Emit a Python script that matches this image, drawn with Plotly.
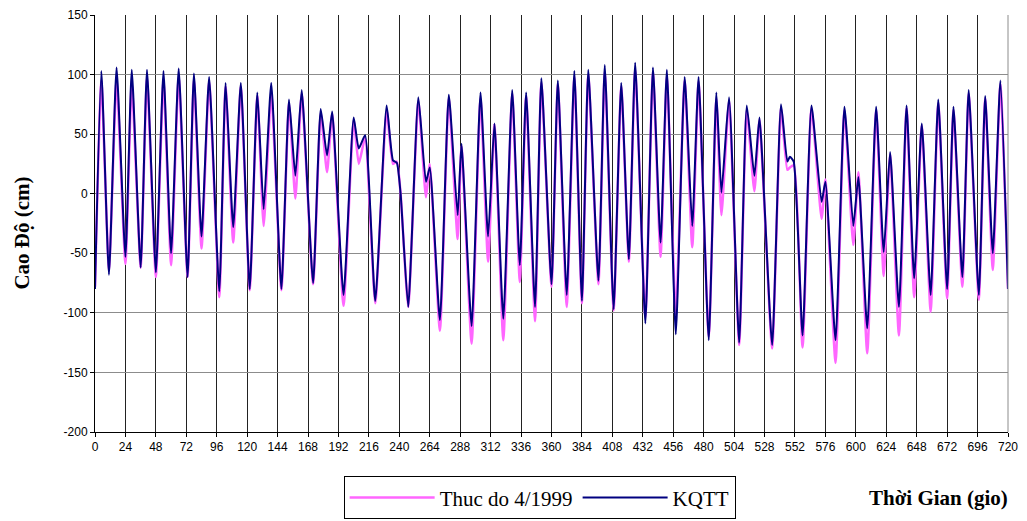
import plotly.graph_objects as go

# Hours of the successive highs / lows
hours = [0, 5, 11, 17, 24, 29, 36, 41, 48, 54, 60, 66, 73, 78, 84, 90, 98, 103, 109, 115,
         122, 128, 133, 139, 147, 153, 158, 163, 172, 178, 183, 187, 196, 204, 208, 213,
         221, 230, 235, 238, 241, 247, 255, 261, 264, 272, 279, 286, 289, 297, 304, 310,
         315, 322, 329, 335, 340, 347, 352, 360, 365, 372, 378, 384, 389, 397, 402, 409,
         415, 421, 426, 434, 440, 446, 451, 458, 465, 471, 476, 484, 490, 494, 500, 508,
         514, 520, 524, 534, 541, 546, 548, 551, 558, 565, 573, 576, 584, 591, 598, 602,
         609, 616, 622, 627, 634, 640, 646, 652, 659, 665, 672, 677, 684, 689, 697, 702,
         708, 714, 720]

# KQTT (computed), cm
kqtt = [-80, 103, -68, 106, -53, 104, -62, 104, -66, 103, -50, 105, -70, 101, -36, 98, -82, 93, -28, 93,
        -80, 85, -13, 93, -80, 79, 15, 87, -75, 71, 32, 69, -85, 64, 38, 49,
        -90, 74, 28, 26, 0, -95, 81, 10, 22, -106, 83, -18, 42, -111, 85, -36,
        59, -105, 87, -60, 85, -95, 97, -76, 95, -85, 103, -90, 104, -73, 108, -97,
        93, -55, 110, -109, 106, -41, 104, -118, 98, -27, 98, -123, 85, 1, 81, -125,
        74, 15, 64, -127, 75, 27, 31, 27, -119, 74, -7, 10, -123, 73, -27, 14,
        -113, 73, -49, 35, -95, 74, -71, 59, -85, 79, -80, 73, -70, 87, -85, 82,
        -50, 95, -80]

# Thuc do 4/1999 (observed), cm
thucdo = [-78, 95, -64, 95, -59, 92, -62, 97, -70, 95, -60, 98, -70, 95, -46, 94, -87, 90, -41, 90,
          -81, 82, -27, 84, -81, 76, -4, 84, -76, 68, 18, 67, -94, 62, 25, 47,
          -92, 70, 25, 27, 0, -95, 78, -3, 25, -115, 80, -38, 40, -126, 80, -57,
          58, -123, 84, -74, 82, -107, 93, -78, 92, -95, 98, -92, 100, -76, 102, -98,
          90, -57, 104, -104, 102, -53, 98, -101, 95, -45, 94, -120, 80, -18, 78, -127,
          70, 2, 62, -130, 72, 20, 22, 24, -129, 72, -21, 12, -142, 70, -43, 18,
          -134, 70, -69, 33, -119, 72, -87, 57, -99, 76, -88, 70, -78, 84, -89, 80,
          -64, 92, -80]

x_ticks = list(range(0, 721, 24))
y_ticks = list(range(-200, 151, 50))

fig = go.Figure()
fig.add_trace(go.Scatter(x=hours, y=thucdo, mode="lines", name="Thuc do 4/1999",
                         line=dict(color="#FF66FF", width=2.5, shape="spline", smoothing=0.5)))
fig.add_trace(go.Scatter(x=hours, y=kqtt, mode="lines", name="KQTT",
                         line=dict(color="#000080", width=2, shape="spline", smoothing=0.5)))

serif = "Liberation Serif, Times New Roman, serif"
sans = "Liberation Sans, Arial, sans-serif"

# page body has an 8px margin, so the figure is sized to fit inside it
fig.update_layout(
    width=1019, height=513,
    margin=dict(l=87, r=19, t=7, b=89, autoexpand=False),
    paper_bgcolor="white", plot_bgcolor="white",
    showlegend=True,
    legend=dict(orientation="h", x=0.487, y=-0.158, xanchor="center", yanchor="middle",
                bordercolor="black", borderwidth=1, bgcolor="white",
                font=dict(family=serif, size=21, color="black"), itemwidth=85,
                tracegroupgap=0),
    xaxis=dict(range=[0, 720], tickvals=x_ticks, ticktext=[str(v) for v in x_ticks],
               showgrid=True, gridcolor="#222222", gridwidth=1, automargin=False,
               showline=True, linecolor="black", linewidth=1, mirror=False,
               ticks="outside", ticklen=4, tickcolor="black",
               tickfont=dict(family=sans, size=12, color="black"), zeroline=False),
    yaxis=dict(range=[-200, 150], tickvals=y_ticks, ticktext=[str(v) for v in y_ticks],
               showgrid=True, gridcolor="#8c8c8c", gridwidth=1, automargin=False,
               showline=True, linecolor="black", linewidth=1,
               ticks="outside", ticklen=4, tickcolor="black",
               tickfont=dict(family=sans, size=12, color="black"), zeroline=False),
    annotations=[
        dict(text="<b>Thời Gian (gio)</b>", xref="paper", yref="paper",
             x=0.924, y=-0.158, xanchor="center", yanchor="middle", showarrow=False,
             font=dict(family=serif, size=21, color="black")),
        dict(text="<b>Cao Độ (cm)</b>", xref="paper", yref="paper",
             x=-0.081, y=0.476, xanchor="center", yanchor="middle", showarrow=False,
             textangle=-90, font=dict(family=serif, size=21, color="black")),
    ],
    shapes=[dict(type="line", xref="paper", yref="paper", x0=1, x1=1, y0=0, y1=1,
                 line=dict(color="#8c8c8c", width=1))],
)

fig.write_html("out.html")
